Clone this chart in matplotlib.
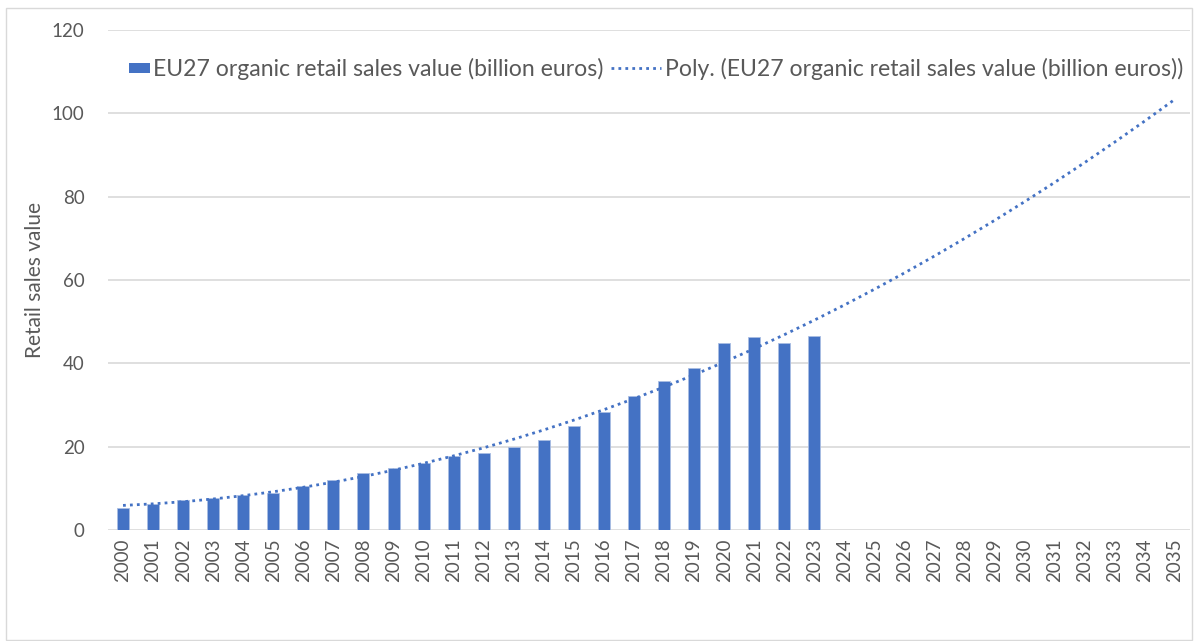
import numpy as np
import matplotlib.pyplot as plt
from matplotlib.patches import Rectangle
from matplotlib.legend_handler import HandlerPatch

# EU27 organic retail sales value, billion euros
years = list(range(2000, 2036))
sales_years = list(range(2000, 2024))
sales = [5.4, 6.3, 7.1, 7.8, 8.5, 8.9, 10.5, 12.0, 13.6, 14.9, 16.0, 17.7,
         18.6, 20.0, 21.7, 24.9, 28.3, 32.1, 35.7, 38.9, 44.9, 46.3, 44.9, 46.5]

blue = '#4472C4'
grey_text = '#595959'
grid_col = '#D9D9D9'

plt.rcParams['font.family'] = ['Lato', 'DejaVu Sans']


class SmallBox(HandlerPatch):
    # short legend key sitting right next to its text
    def create_artists(self, legend, orig_handle, xdescent, ydescent,
                       width, height, fontsize, trans):
        w = 0.42 * width
        h = 0.65 * height
        p = Rectangle((width - w - xdescent, (height - h) / 2 - ydescent), w, h,
                      facecolor=blue, edgecolor='none', transform=trans)
        return [p]


fig = plt.figure(figsize=(11.98, 6.41), dpi=100)
ax = fig.add_axes([108 / 1198, 111 / 641, (1190 - 108) / 1198, 500 / 641])

x_all = np.arange(len(years))
x_bar = np.arange(len(sales))
bars = ax.bar(x_bar, sales, width=0.4, color=blue, edgecolor='#A9BDE3',
              linewidth=0.6, zorder=2)

# 2nd order polynomial trendline, extended forward to 2035
coef = np.polyfit(x_bar, sales, 2)
trend, = ax.plot(x_all, np.polyval(coef, x_all), linestyle=(0, (1, 1.5)),
                 color=blue, linewidth=2, zorder=3)

ax.set_xlim(-0.5, len(years) - 0.5)
ax.set_ylim(0, 120)
ax.set_yticks(range(0, 121, 20))
ax.set_xticks(x_all)
ax.set_xticklabels([str(y) for y in years], rotation=90)
ax.tick_params(axis='both', length=0, colors=grey_text, labelsize=13.5)
ax.tick_params(axis='y', pad=17)
ax.tick_params(axis='x', pad=6)
ax.yaxis.grid(True, color=grid_col, linewidth=1.2, zorder=0)
ax.set_axisbelow(True)
for s in ax.spines.values():
    s.set_visible(False)

ax.set_ylabel('Retail sales value', fontsize=15, color=grey_text, labelpad=5)

leg = ax.legend([bars, trend],
                ['EU27 organic retail sales value (billion euros)',
                 'Poly. (EU27 organic retail sales value (billion euros))'],
                handler_map={bars: SmallBox()},
                loc='upper right', bbox_to_anchor=(1.0, 0.958), ncol=2,
                frameon=False, fontsize=16.6, handlelength=2.2,
                handletextpad=0.15, columnspacing=0.3, borderaxespad=0,
                borderpad=0.3)
for t in leg.get_texts():
    t.set_color(grey_text)

# light chart border
fig.patches.append(Rectangle((6 / 1198, 0.002), 1 - 12 / 1198, 1 - 9 / 641,
                             transform=fig.transFigure, fill=False,
                             edgecolor=grid_col, linewidth=1))

fig.savefig('out.png', dpi=100)
